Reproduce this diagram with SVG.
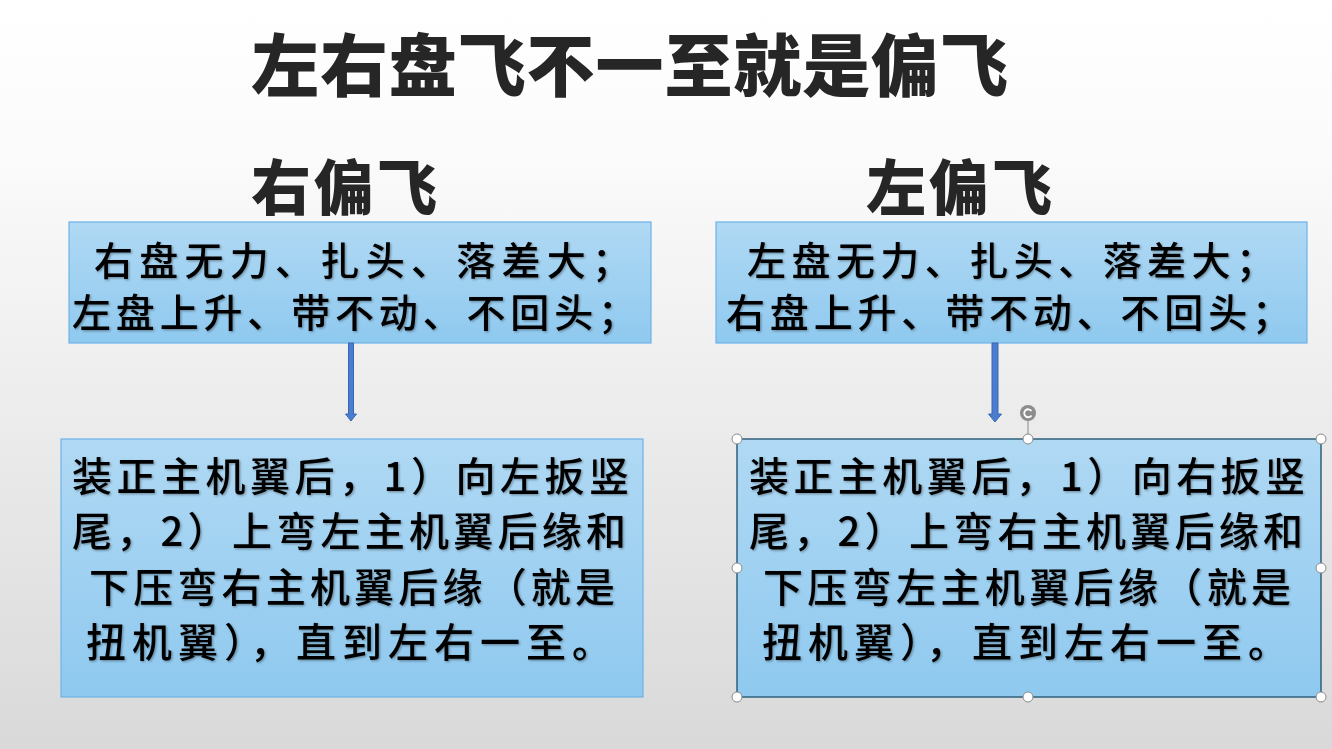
<svg xmlns="http://www.w3.org/2000/svg" width="1332" height="749" viewBox="0 0 1332 749">
<defs>
<linearGradient id="bg" x1="0" y1="0" x2="0" y2="1">
<stop offset="0" stop-color="#ffffff"/>
<stop offset="0.2" stop-color="#fbfbfb"/>
<stop offset="1" stop-color="#d9d9d9"/>
</linearGradient>
<linearGradient id="boxfill" x1="0" y1="0" x2="0" y2="1">
<stop offset="0" stop-color="#b0d9f4"/>
<stop offset="1" stop-color="#8fc9ef"/>
</linearGradient>
<filter id="sh" x="-5%" y="-20%" width="110%" height="140%">
<feDropShadow dx="1.2" dy="1.2" stdDeviation="0.8" flood-color="#000" flood-opacity="0.35"/>
</filter>
<style>
.title{font-family:"Noto Sans CJK SC","Noto Sans CJK JP",sans-serif;font-weight:900;fill:#262626}
.body{font-family:"Noto Sans CJK SC","Noto Sans CJK JP",sans-serif;font-weight:500;fill:#000;filter:url(#sh)}
.b1{font-size:39px}
.b2{font-size:40px}
.box{fill:url(#boxfill);stroke:#6db3e6;stroke-width:1.2}
.boxsel{fill:url(#boxfill);stroke:#2f5f7c;stroke-width:1.5}
.arrow{fill:#4a7dd0;stroke:#3a66b0;stroke-width:1}
.handle{fill:#fff;stroke:#8a8a8a;stroke-width:1}
</style>
</defs>
<rect x="0" y="0" width="1332" height="749" fill="url(#bg)"/>

<g id="title">
<text class="title" x="251" y="91" font-size="68" textLength="757" lengthAdjust="spacing">左右盘飞不一至就是偏飞</text>
</g>
<g id="heading-right">
<text class="title" x="251" y="210" font-size="60" textLength="186" lengthAdjust="spacing">右偏飞</text>
</g>
<g id="heading-left">
<text class="title" x="866" y="210" font-size="60" textLength="186" lengthAdjust="spacing">左偏飞</text>
</g>

<g id="node-right-symptom">
<rect class="box" x="69" y="222" width="582" height="121"/>
<text class="body b1" x="94" y="275" textLength="537" lengthAdjust="spacing">右盘无力、扎头、落差大；</text>
<text class="body b1" x="72" y="327" textLength="565" lengthAdjust="spacing">左盘上升、带不动、不回头；</text>
</g>

<g id="node-left-symptom">
<rect class="box" x="716" y="222" width="591" height="121"/>
<text class="body b1" x="747" y="275" textLength="528" lengthAdjust="spacing">左盘无力、扎头、落差大；</text>
<text class="body b1" x="726" y="327" textLength="565" lengthAdjust="spacing">右盘上升、带不动、不回头；</text>
</g>

<g id="node-right-fix">
<rect class="box" x="61" y="439" width="582" height="258"/>
<text class="body b2" x="72" y="491" textLength="557" lengthAdjust="spacing">装正主机翼后，1）向左扳竖</text>
<text class="body b2" x="72" y="546" textLength="554" lengthAdjust="spacing">尾，2）上弯左主机翼后缘和</text>
<text class="body b2" x="89" y="602" textLength="526" lengthAdjust="spacing">下压弯右主机翼后缘（就是</text>
<text class="body b2" x="86" y="657" textLength="526" lengthAdjust="spacing">扭机翼），直到左右一至。</text>
</g>

<g id="node-left-fix">
<rect class="boxsel" x="737" y="439" width="584" height="258"/>
<text class="body b2" x="749" y="491" textLength="556" lengthAdjust="spacing">装正主机翼后，1）向右扳竖</text>
<text class="body b2" x="749" y="546" textLength="554" lengthAdjust="spacing">尾，2）上弯右主机翼后缘和</text>
<text class="body b2" x="763" y="602" textLength="528" lengthAdjust="spacing">下压弯左主机翼后缘（就是</text>
<text class="body b2" x="762" y="657" textLength="526" lengthAdjust="spacing">扭机翼），直到左右一至。</text>
</g>

<g id="connectors">
<polygon class="arrow" points="348.5,343 353.5,343 353.5,414 356.5,414 351,421 345.5,414 348.5,414"/>
<polygon class="arrow" points="992,343 998,343 998,414 1001.5,414 995,422 988.5,414 992,414"/>
</g>

<g id="selection-handles">
<line x1="1028" y1="420" x2="1028" y2="439" stroke="#8a8a8a" stroke-width="1"/>
<circle cx="1028" cy="413" r="8" fill="#8c8c8c"/>
<path d="M1031.5,411 A4,4 0 1 0 1031.5,415.5" fill="none" stroke="#fff" stroke-width="1.8"/>
<circle class="handle" cx="737" cy="439" r="5"/>
<circle class="handle" cx="1028" cy="439" r="5"/>
<circle class="handle" cx="1321" cy="439" r="5"/>
<circle class="handle" cx="737" cy="568" r="5"/>
<circle class="handle" cx="1321" cy="568" r="5"/>
<circle class="handle" cx="737" cy="697" r="5"/>
<circle class="handle" cx="1028" cy="697" r="5"/>
<circle class="handle" cx="1321" cy="697" r="5"/>
</g>
</svg>
